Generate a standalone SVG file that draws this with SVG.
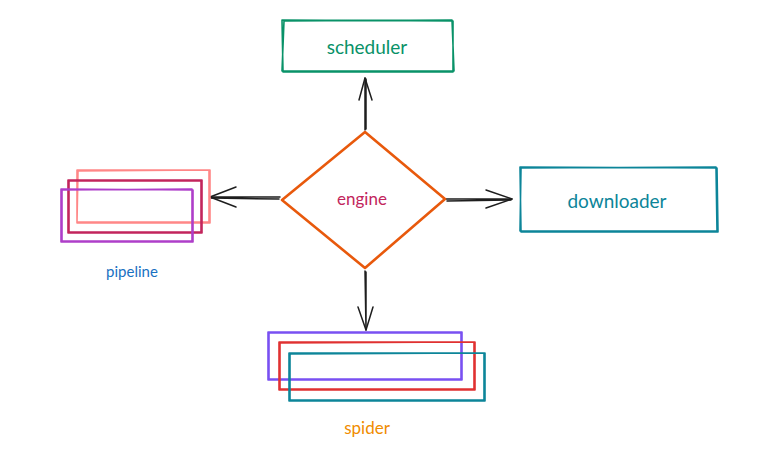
<svg xmlns="http://www.w3.org/2000/svg" width="782" height="460" viewBox="0 0 782 460">
<style>
.box{fill:none;stroke-width:1.6;stroke-linejoin:round}
.lbl{font-family:"Lato","Noto Sans",sans-serif;text-anchor:middle;dominant-baseline:central}
.conn{fill:none;stroke:#1e1e1e;stroke-width:1.5;stroke-linecap:round;stroke-linejoin:round}
</style>
<rect width="782" height="460" fill="#ffffff"/>
<g id="connectors">
  <g id="to-scheduler">
    <path class="conn" d="M365 130 L365 78 M366 129 L366 79"/>
    <path class="conn" d="M359 100 L365 78 L372 100"/>
  </g>
  <g id="to-pipeline">
    <path class="conn" d="M280 197 L210 197 M279 199 L211 198"/>
    <path class="conn" d="M236 187 L210 197 L236 207"/>
  </g>
  <g id="to-downloader">
    <path class="conn" d="M446 199 L512 199 M447 201 L511 200"/>
    <path class="conn" d="M486 190 L512 199 L486 208"/>
  </g>
  <g id="to-spider">
    <path class="conn" d="M365 271 L366 330 M366 272 L366 329"/>
    <path class="conn" d="M358 307 L366 330 L373 307"/>
  </g>
</g>
<g id="scheduler">
  <path class="box" stroke="#099268" d="M282 20 L453 21 L453 72 L283 72 Z M284 21 L452 20 L454 71 L282 71 Z"/>
  <text class="lbl" x="367" y="46" font-size="19" fill="#099268">scheduler</text>
</g>
<g id="engine">
  <path fill="none" stroke="#e8590c" stroke-width="2.6" stroke-linejoin="round" d="M365 132 L445 199 L365 268 L282 200 Z"/>
  <text class="lbl" x="362" y="198" font-size="17" fill="#c2255c">engine</text>
</g>
<g id="downloader">
  <path class="box" stroke="#0c8599" d="M520 167 L717 168 L718 232 L521 232 Z M521 168 L716 167 L717 231 L520 231 Z"/>
  <text class="lbl" x="617" y="200" font-size="19" fill="#0c8599">downloader</text>
</g>
<g id="pipeline">
  <path class="box" stroke="#ff8787" d="M77 170 L210 170 L210 223 L77 223 Z M78 171 L209 170 L209 222 L77 222 Z"/>
  <path class="box" stroke="#c2255c" d="M68 180 L202 180 L202 233 L68 233 Z M69 181 L201 181 L201 232 L69 232 Z"/>
  <path class="box" stroke="#ae3ec9" d="M61 189 L193 190 L193 242 L61 242 Z M62 190 L192 189 L192 241 L62 241 Z"/>
  <text class="lbl" x="132" y="271" font-size="15" fill="#1971c2">pipeline</text>
</g>
<g id="spider">
  <path class="box" stroke="#7950f2" d="M268 332 L462 332 L462 380 L268 380 Z M269 333 L461 333 L461 379 L269 379 Z"/>
  <path class="box" stroke="#e03131" d="M279 342 L475 342 L475 390 L279 390 Z M280 343 L474 342 L474 389 L280 389 Z"/>
  <path class="box" stroke="#0c8599" d="M289 353 L485 353 L485 401 L289 401 Z M290 354 L484 353 L484 400 L290 400 Z"/>
  <text class="lbl" x="367" y="427" font-size="17" fill="#f08c00">spider</text>
</g>
</svg>
